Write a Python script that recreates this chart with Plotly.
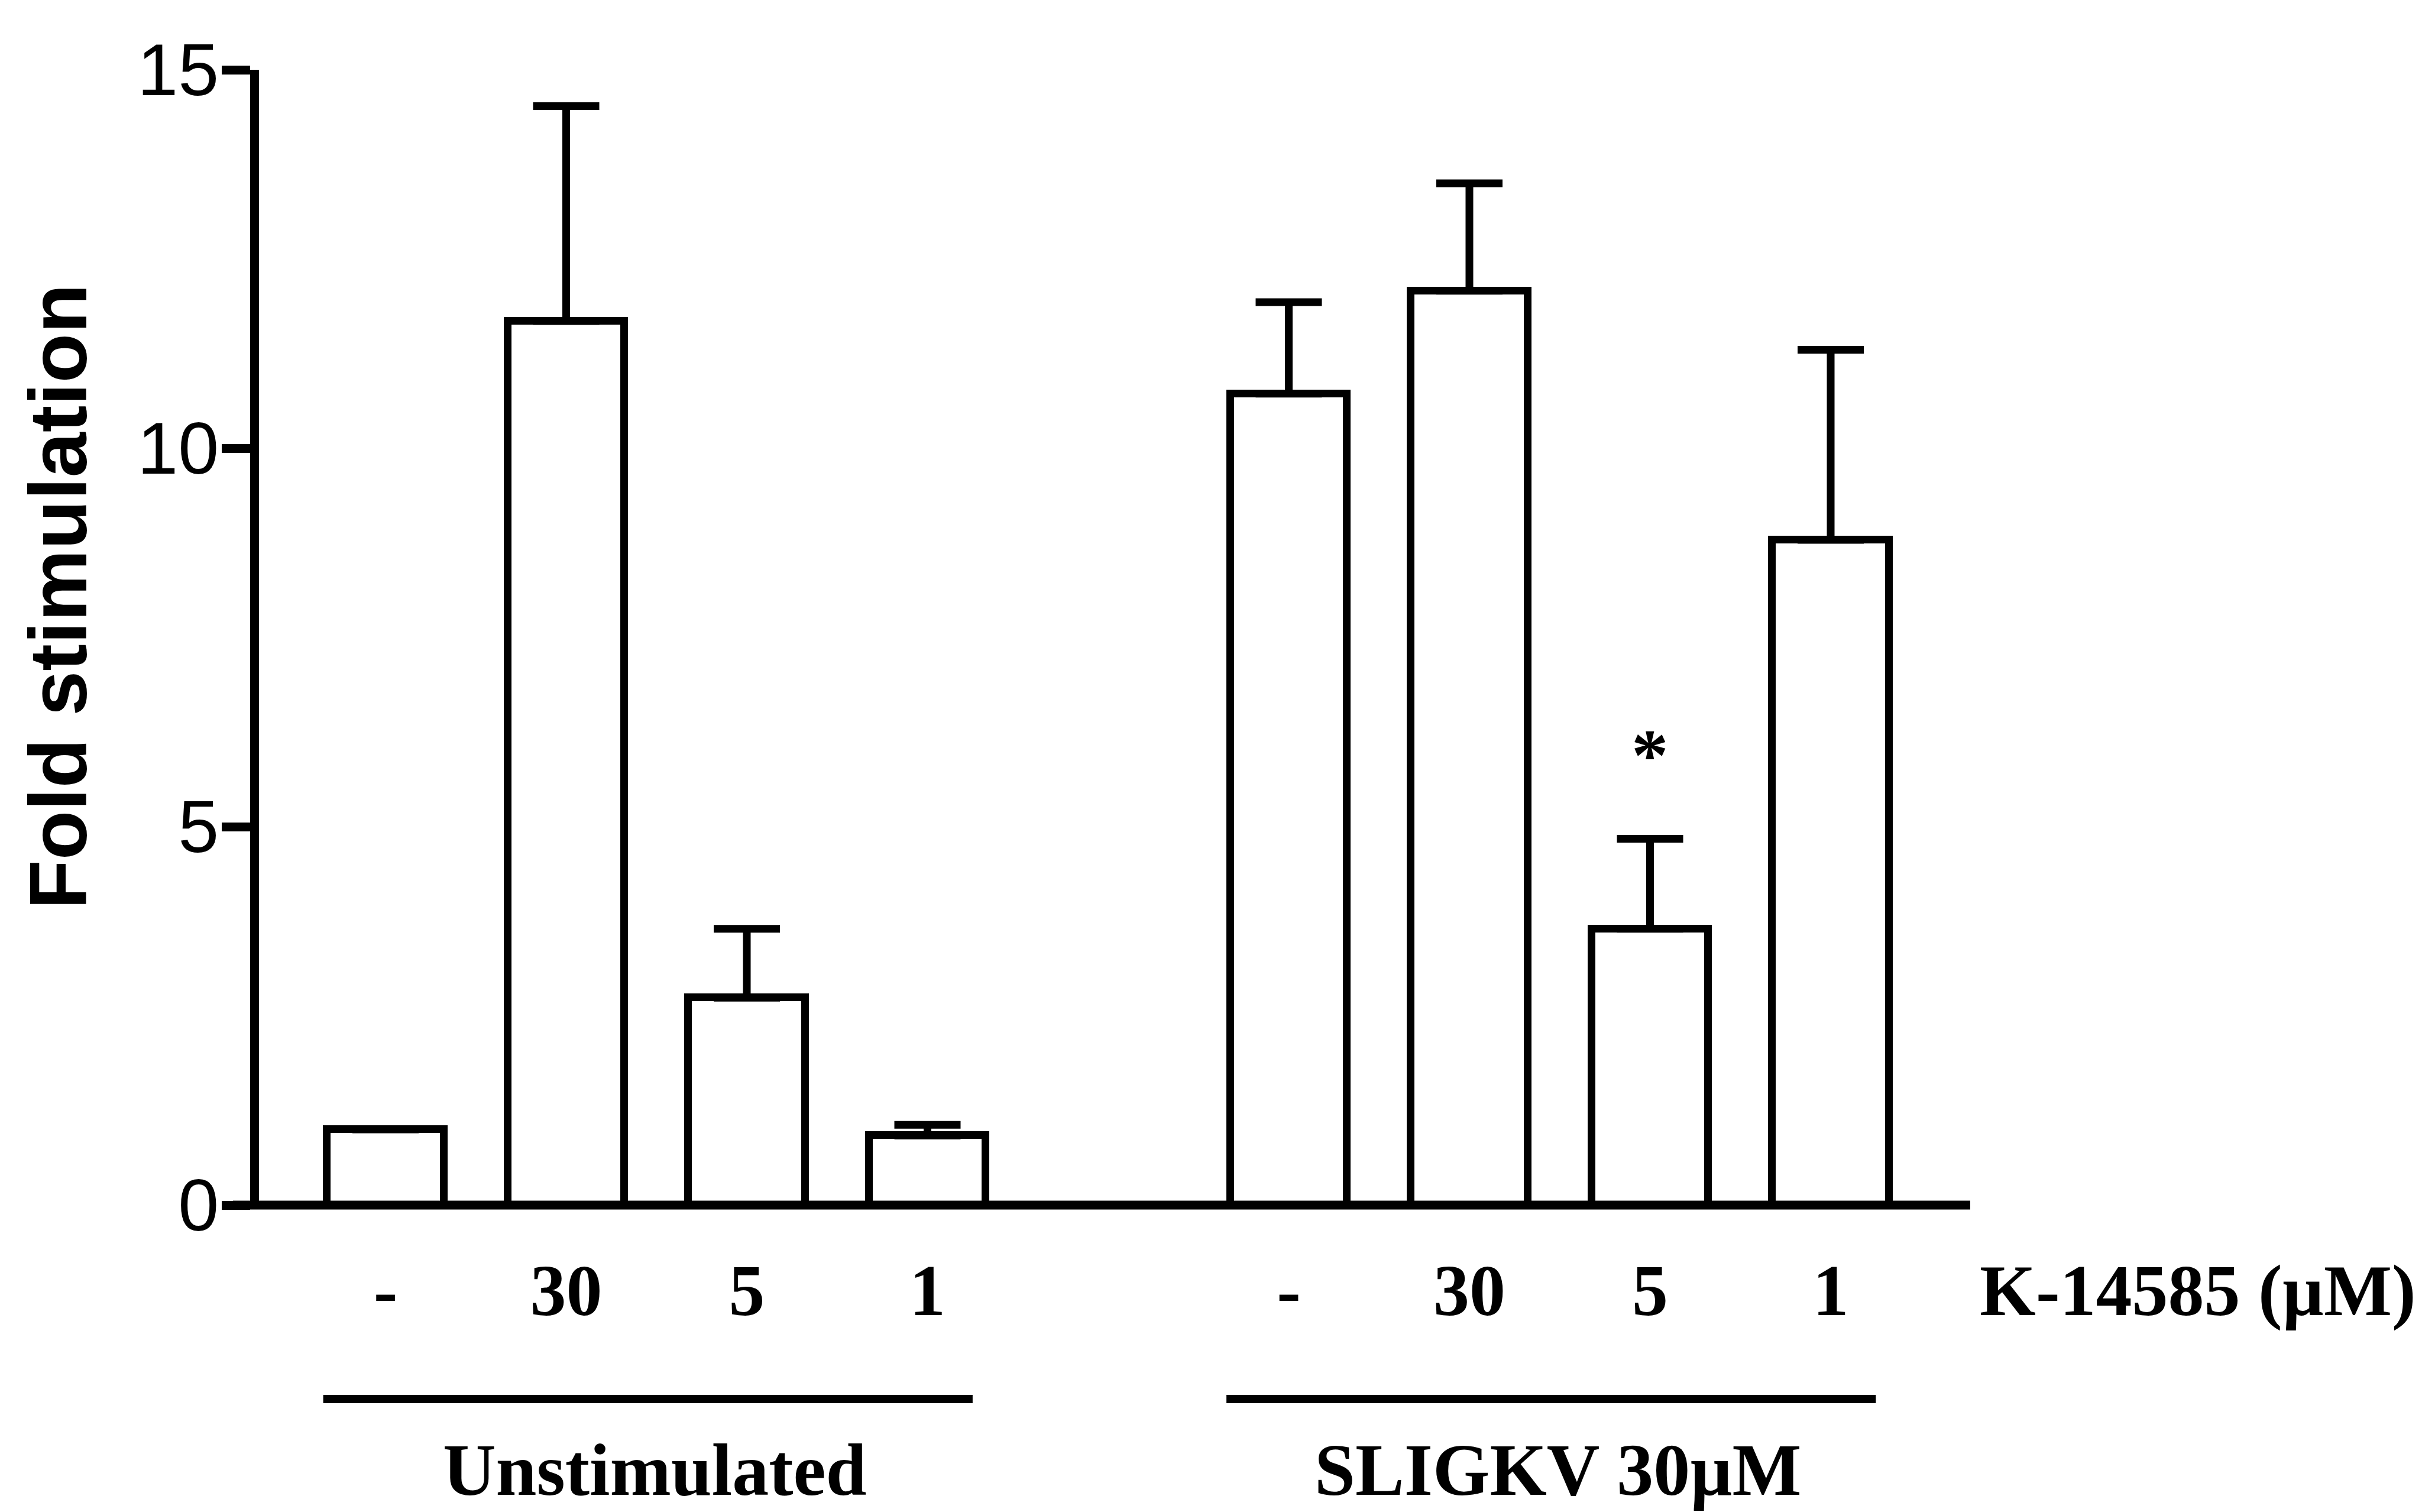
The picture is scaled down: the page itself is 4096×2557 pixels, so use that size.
import plotly.graph_objects as go

# Data: fold stimulation (mean) with upper SEM limit, per condition
dose_labels = ["-", "30", "5", "1", "-", "30", "5", "1"]
bar_positions = [0, 1, 2, 3, 5, 6, 7, 8]
fold_mean = [1.0, 11.68, 2.74, 0.92, 10.72, 12.08, 3.65, 8.79]
fold_upper = [1.0, 14.52, 3.65, 1.06, 11.93, 13.50, 4.84, 11.30]
group_names = ["Unstimulated", "SLIGKV 30µM"]
group_members = [[0, 1, 2, 3], [5, 6, 7, 8]]
significant = [7]
y_ticks = [0, 5, 10, 15]

# Canvas and plot-area geometry (pixels)
W, H = 4096, 2557
L, R, T, B = 438, 3332, 118, 2038
X0_PX, STEP_PX = 652, 305.5          # pixel centre of position 0, pixels per slot
x_range = [(L - X0_PX) / STEP_PX, (R - X0_PX) / STEP_PX]


def px_x(px):
    return (px - L) / (R - L)


def px_y(py):
    return (B - py) / (B - T)


def data_to_px(x):
    return X0_PX + x * STEP_PX


SERIF = "Liberation Serif, Times New Roman, serif"
SANS = "Liberation Sans, Arial, sans-serif"

err_plus = [u - m for u, m in zip(fold_upper, fold_mean)]

fig = go.Figure()
fig.add_trace(go.Bar(
    x=bar_positions,
    y=fold_mean,
    width=0.645,
    marker=dict(color="white", line=dict(color="black", width=13)),
    error_y=dict(type="data", symmetric=False, array=err_plus,
                 arrayminus=[0] * len(err_plus),
                 color="black", thickness=13, width=56),
    cliponaxis=False,
    showlegend=False,
))

shapes = []
# baseline (x axis line) running slightly past the y axis
shapes.append(dict(type="line", xref="paper", yref="paper",
                   x0=px_x(394), x1=1, y0=0, y1=0,
                   line=dict(color="black", width=15)))

annotations = []
# group underlines and group names
for name, members in zip(group_names, group_members):
    x_left = data_to_px(members[0] - 0.345)
    x_right = data_to_px(members[-1] + 0.25)
    shapes.append(dict(type="line", xref="paper", yref="paper",
                       x0=px_x(x_left), x1=px_x(x_right),
                       y0=px_y(2366), y1=px_y(2366),
                       line=dict(color="black", width=14)))
    annotations.append(dict(text=name, xref="paper", yref="paper",
                            x=px_x((x_left + x_right) / 2 + 12), y=px_y(2486),
                            xanchor="center", yanchor="middle", showarrow=False,
                            font=dict(family=SERIF, size=124, color="black", weight=700)))

# compound label at the end of the dose row
annotations.append(dict(text="K-14585 (µM)", xref="paper", yref="paper",
                        x=px_x(3346), y=px_y(2183), xanchor="left", yanchor="middle",
                        showarrow=False,
                        font=dict(family=SERIF, size=122, color="black", weight=700)))

# significance marker
for pos in significant:
    annotations.append(dict(text="*", xref="x", yref="paper",
                            x=pos, y=px_y(1277), xanchor="center", yanchor="middle",
                            showarrow=False,
                            font=dict(family=SERIF, size=125, color="black", weight=700)))

# y-axis title
annotations.append(dict(text="Fold stimulation", xref="paper", yref="paper",
                        x=px_x(98), y=px_y(1009), textangle=-90,
                        xanchor="center", yanchor="middle", showarrow=False,
                        font=dict(family=SANS, size=137, color="black", weight=700)))

fig.update_layout(
    width=W, height=H,
    margin=dict(l=L, r=W - R, t=T, b=H - B, pad=0),
    paper_bgcolor="white", plot_bgcolor="white",
    shapes=shapes, annotations=annotations,
    xaxis=dict(range=x_range, showgrid=False, zeroline=False, showline=False,
               tickmode="array", tickvals=bar_positions, ticktext=dose_labels,
               ticks="", ticklabelstandoff=63,
               tickfont=dict(family=SERIF, size=122, color="black", weight=700)),
    yaxis=dict(range=[0, 15], showgrid=False, zeroline=False,
               showline=True, linecolor="black", linewidth=15,
               tickmode="array", tickvals=y_ticks,
               ticks="outside", ticklen=48, tickwidth=15, tickcolor="black",
               ticklabelstandoff=-20,
               tickfont=dict(family=SANS, size=124, color="black")),
    bargap=0,
)

fig.write_html("out.html")
